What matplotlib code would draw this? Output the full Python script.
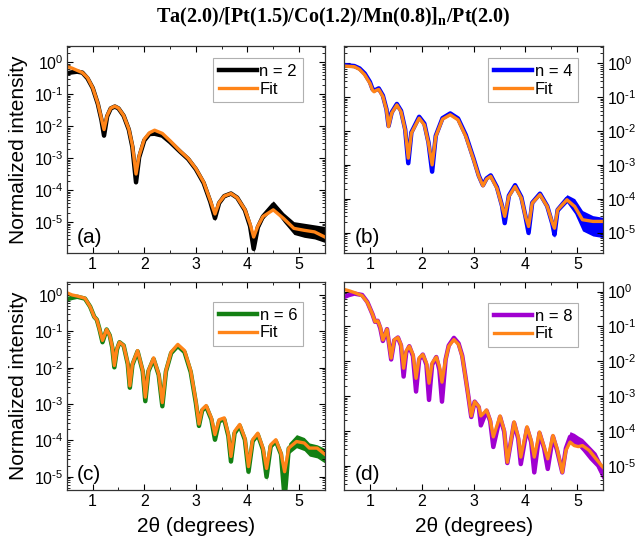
import numpy as np
import matplotlib
matplotlib.use("Agg")
import matplotlib.pyplot as plt
from matplotlib.ticker import LogLocator, MultipleLocator, NullFormatter, FuncFormatter

plt.rcParams['font.family'] = ['Liberation Sans', 'DejaVu Sans']
plt.rcParams['mathtext.fontset'] = 'custom'
plt.rcParams['mathtext.rm'] = 'Liberation Serif'
plt.rcParams['mathtext.bf'] = 'Liberation Serif:bold'

# values are log10(normalized intensity)
# spread = half width (in decades) of the noisy band of the measured curve

# (a) n = 2
a_x = [0.5, 0.6, 0.7, 0.8, 0.9, 1.0, 1.1, 1.17, 1.22, 1.28,
       1.35, 1.43, 1.5, 1.6, 1.7, 1.77, 1.84, 1.9, 2.0, 2.1,
       2.2, 2.35, 2.5, 2.7, 2.85, 3.0, 3.15, 3.28, 3.37, 3.45,
       3.55, 3.68, 3.8, 3.95, 4.05, 4.12, 4.2, 4.3, 4.5, 4.7,
       4.9, 5.1, 5.3, 5.5]
a_meas = [-0.34, -0.31, -0.29, -0.32, -0.50, -0.80, -1.30, -1.80, -2.29, -1.69,
          -1.44, -1.38, -1.44, -1.67, -2.10, -2.65, -3.75, -2.97, -2.44, -2.24,
          -2.23, -2.29, -2.49, -2.80, -3.02, -3.34, -3.77, -4.36, -4.87, -4.40,
          -4.18, -4.10, -4.23, -4.62, -5.12, -5.83, -5.16, -4.82, -4.45, -4.85,
          -5.18, -5.25, -5.30, -5.38]
a_fit = [-0.13, -0.18, -0.25, -0.32, -0.48, -0.79, -1.28, -1.76, -2.10, -1.66,
         -1.43, -1.37, -1.43, -1.66, -2.08, -2.60, -3.49, -2.92, -2.40, -2.20,
         -2.12, -2.22, -2.45, -2.78, -3.00, -3.32, -3.74, -4.32, -4.74, -4.38,
         -4.18, -4.10, -4.23, -4.60, -5.05, -5.46, -5.12, -4.82, -4.61, -4.88,
         -5.19, -5.25, -5.30, -5.46]
a_spread = [0.0] * 26 + [0.02, 0.05, 0.08, 0.05,
                         0.05, 0.05, 0.05, 0.05, 0.08, 0.12, 0.08, 0.08, 0.12, 0.15,
                         0.2, 0.22, 0.22, 0.25]

# (b) n = 4
b_x = [0.5, 0.7, 0.8, 0.9, 1.0, 1.05, 1.08, 1.12, 1.17, 1.25,
       1.32, 1.36, 1.42, 1.52, 1.6, 1.68, 1.74, 1.8, 1.95, 2.05,
       2.13, 2.2, 2.27, 2.4, 2.55, 2.7, 2.85, 3.0, 3.1, 3.18,
       3.25, 3.33, 3.45, 3.55, 3.6, 3.68, 3.8, 3.92, 4.0, 4.06,
       4.13, 4.28, 4.42, 4.52, 4.56, 4.62, 4.8, 4.95, 5.1, 5.3,
       5.5]
b_meas = [-0.05, -0.08, -0.15, -0.30, -0.55, -0.76, -0.80, -0.78, -0.74, -0.95,
          -1.36, -1.85, -1.45, -1.20, -1.40, -1.95, -2.95, -2.04, -1.58, -1.78,
          -2.34, -3.20, -2.14, -1.62, -1.48, -1.63, -2.12, -2.82, -3.32, -3.60,
          -3.40, -3.31, -3.66, -4.22, -4.72, -3.91, -3.60, -3.95, -4.52, -5.01,
          -4.12, -3.85, -4.22, -4.75, -5.06, -4.33, -4.00, -4.22, -4.65, -4.80,
          -4.85]
b_fit = [-0.08, -0.10, -0.18, -0.34, -0.59, -0.79, -0.84, -0.80, -0.77, -0.98,
         -1.38, -1.87, -1.47, -1.23, -1.43, -1.97, -2.80, -2.06, -1.62, -1.82,
         -2.36, -3.00, -2.16, -1.65, -1.52, -1.67, -2.16, -2.85, -3.34, -3.62,
         -3.42, -3.34, -3.69, -4.23, -4.52, -3.93, -3.64, -3.98, -4.52, -4.82,
         -4.13, -3.88, -4.23, -4.72, -4.87, -4.33, -4.03, -4.23, -4.62, -4.67,
         -4.67]
b_spread = [0.0] * 30 + [0.0, 0.0, 0.0, 0.03, 0.05, 0.03, 0.03, 0.03, 0.05, 0.08,
                         0.05, 0.05, 0.05, 0.08, 0.1, 0.08, 0.12, 0.22, 0.3, 0.3,
                         0.3]

# (c) n = 6
c_x = [0.5, 0.6, 0.7, 0.85, 0.95, 1.03, 1.08, 1.13, 1.19, 1.27,
       1.33, 1.38, 1.42, 1.47, 1.52, 1.6, 1.68, 1.72, 1.77, 1.87,
       1.97, 2.02, 2.08, 2.18, 2.28, 2.35, 2.42, 2.52, 2.65, 2.78,
       2.9, 3.0, 3.06, 3.12, 3.2, 3.3, 3.37, 3.45, 3.55, 3.63,
       3.68, 3.75, 3.85, 3.95, 4.02, 4.1, 4.2, 4.3, 4.37, 4.45,
       4.55, 4.65, 4.72, 4.8, 4.95, 5.1, 5.2, 5.35, 5.5]
c_meas = [-0.12, -0.08, -0.05, -0.10, -0.32, -0.60, -0.68, -0.93, -1.30, -0.95,
          -1.11, -1.45, -1.99, -1.50, -1.30, -1.39, -1.90, -2.55, -1.92, -1.55,
          -2.10, -2.92, -2.10, -1.76, -2.20, -3.06, -2.10, -1.60, -1.40, -1.57,
          -2.12, -2.97, -3.60, -3.18, -3.07, -3.42, -3.98, -3.47, -3.42, -3.88,
          -4.58, -3.80, -3.60, -3.98, -4.86, -4.02, -3.84, -4.25, -5.00, -4.16,
          -4.02, -4.38, -5.60, -4.22, -4.02, -4.10, -4.25, -4.30, -4.42]
c_fit = [0.06, 0.00, -0.03, -0.09, -0.32, -0.60, -0.68, -0.93, -1.25, -0.95,
         -1.11, -1.43, -1.94, -1.48, -1.30, -1.39, -1.88, -2.50, -1.90, -1.53,
         -2.08, -2.81, -2.08, -1.73, -2.18, -2.96, -2.08, -1.57, -1.36, -1.53,
         -2.08, -2.92, -3.55, -3.15, -3.04, -3.38, -3.84, -3.43, -3.38, -3.84,
         -4.44, -3.75, -3.56, -3.94, -4.72, -3.98, -3.80, -4.21, -4.77, -4.12,
         -3.98, -4.35, -4.86, -4.21, -4.03, -4.07, -4.21, -4.21, -4.38]
c_spread = [0.0] * 40 + [0.03, 0.03, 0.03, 0.05, 0.08, 0.05, 0.05, 0.05, 0.1, 0.05,
                         0.05, 0.08, 0.1, 0.15, 0.18, 0.18, 0.18, 0.18, 0.2]

# (d) n = 8
d_x = [0.5, 0.6, 0.7, 0.85, 0.95, 1.05, 1.1, 1.15, 1.2, 1.25,
       1.33, 1.41, 1.47, 1.54, 1.6, 1.65, 1.7, 1.76, 1.83, 1.89,
       1.95, 2.02, 2.09, 2.14, 2.2, 2.28, 2.34, 2.39, 2.46, 2.52,
       2.62, 2.71, 2.78, 2.84, 2.9, 2.955, 3.02, 3.1, 3.14, 3.25,
       3.32, 3.38, 3.51, 3.59, 3.65, 3.78, 3.86, 3.91, 4.03, 4.11,
       4.17, 4.27, 4.36, 4.43, 4.53, 4.61, 4.71, 4.78, 4.86, 4.94,
       5.02, 5.1, 5.23, 5.36, 5.47, 5.5]
d_meas = [-0.16, -0.10, -0.06, -0.10, -0.30, -0.65, -0.87, -0.84, -1.05, -1.42,
          -1.08, -1.95, -1.40, -1.32, -1.55, -2.44, -1.75, -1.57, -1.85, -2.87,
          -1.95, -1.81, -2.10, -3.11, -2.10, -1.88, -2.25, -3.16, -1.95, -1.55,
          -1.33, -1.49, -1.84, -2.42, -3.02, -3.60, -3.16, -3.32, -3.84, -3.42,
          -3.72, -4.46, -3.60, -4.02, -4.92, -3.77, -4.22, -4.95, -3.92, -4.32,
          -5.19, -4.06, -4.50, -5.09, -4.16, -4.56, -5.19, -4.50, -4.17, -4.22,
          -4.30, -4.40, -4.62, -4.82, -5.15, -5.20]
d_fit = [0.06, 0.02, -0.03, -0.12, -0.31, -0.65, -0.87, -0.84, -1.02, -1.39,
         -1.08, -1.91, -1.38, -1.32, -1.52, -2.20, -1.70, -1.57, -1.80, -2.49,
         -1.90, -1.81, -2.05, -2.63, -2.05, -1.88, -2.15, -2.60, -1.95, -1.57,
         -1.38, -1.52, -1.86, -2.43, -3.01, -3.57, -3.16, -3.30, -3.57, -3.40,
         -3.69, -4.17, -3.57, -3.98, -4.90, -3.74, -4.17, -4.75, -3.88, -4.27,
         -4.75, -4.03, -4.46, -4.80, -4.13, -4.51, -5.19, -4.56, -4.32, -4.42,
         -4.45, -4.42, -4.56, -4.80, -5.00, -5.05]
d_spread = [0.0] * 36 + [0.03, 0.03, 0.05, 0.03, 0.03, 0.05, 0.03, 0.03, 0.05, 0.03,
                         0.03, 0.05, 0.03, 0.03, 0.05, 0.03, 0.03, 0.05, 0.03, 0.03,
                         0.05, 0.1, 0.15, 0.15, 0.15, 0.18, 0.2, 0.2, 0.2, 0.2]

FIT_COLOR = '#ff8418'


def decade_label(v, pos):
    e = int(round(np.log10(v)))
    if e < 0:
        return r'$\mathdefault{10^{\text{-}%d}}$' % (-e)
    return r'$\mathdefault{10^{%d}}$' % e


def draw_panel(ax, x, meas, fit, spread, color, label, tag, ylim, leg_anchor, right):
    x = np.array(x)
    m = np.array(meas)
    s = np.array(spread)
    ax.fill_between(x, 10 ** (m - s), 10 ** (m + s), color=color, lw=0)
    ax.plot(x, 10 ** m, color=color, lw=3.2, label=label, solid_joinstyle='round')
    ax.plot(x, 10 ** np.array(fit), color=FIT_COLOR, lw=2.4, label='Fit',
            solid_joinstyle='round')

    ax.set_yscale('log')
    ax.set_xlim(0.5, 5.5)
    ax.set_ylim(*ylim)
    ax.xaxis.set_major_locator(MultipleLocator(1))
    ax.xaxis.set_minor_locator(MultipleLocator(0.5))
    ax.yaxis.set_major_locator(LogLocator(base=10, numticks=20))
    ax.yaxis.set_major_formatter(FuncFormatter(decade_label))
    ax.yaxis.set_minor_locator(LogLocator(base=10, subs=np.arange(2, 10), numticks=20))
    ax.yaxis.set_minor_formatter(NullFormatter())
    ax.tick_params(which='both', direction='in', top=True, right=True, left=True,
                   labelsize=11.5, pad=3)
    ax.tick_params(axis='y', pad=2.5)
    ax.tick_params(which='major', length=4.5, width=0.8)
    ax.tick_params(which='minor', length=2.5, width=0.6)
    if right:
        ax.tick_params(labelleft=False, labelright=True)
    for sp in ax.spines.values():
        sp.set_linewidth(0.9)
        sp.set_color('#333333')

    leg = ax.legend(loc='upper right', bbox_to_anchor=leg_anchor, borderaxespad=0,
                    fontsize=12, handlelength=2.3, handletextpad=0.15,
                    labelspacing=0.15, borderpad=0.35, fancybox=False,
                    framealpha=1, edgecolor='#b0b0b0')
    leg.get_frame().set_linewidth(0.8)
    ax.text(0.04, 0.03, tag, transform=ax.transAxes, fontsize=15,
            ha='left', va='bottom')


fig = plt.figure(figsize=(6.37, 5.44), dpi=100)
ax_a = fig.add_axes([0.105, 0.535, 0.405, 0.380])
ax_b = fig.add_axes([0.540, 0.535, 0.407, 0.380])
ax_c = fig.add_axes([0.105, 0.099, 0.405, 0.383])
ax_d = fig.add_axes([0.540, 0.099, 0.407, 0.383])

draw_panel(ax_a, a_x, a_meas, a_fit, a_spread, 'black', 'n = 2', '(a)',
           (1.1e-6, 3.2), (0.915, 0.942), False)
draw_panel(ax_b, b_x, b_meas, b_fit, b_spread, '#0000ff', 'n = 4', '(b)',
           (2.5e-6, 3.2), (0.903, 0.942), True)
draw_panel(ax_c, c_x, c_meas, c_fit, c_spread, '#138013', 'n = 6', '(c)',
           (4.3e-6, 2.3), (0.915, 0.903), False)
draw_panel(ax_d, d_x, d_meas, d_fit, d_spread, '#a000d0', 'n = 8', '(d)',
           (2.0e-6, 1.9), (0.903, 0.898), True)

for ax in (ax_a, ax_c):
    ax.set_ylabel('Normalized intensity', fontsize=15)
    ax.yaxis.set_label_coords(-0.15, 0.5)
for ax in (ax_c, ax_d):
    ax.set_xlabel('2\u03b8 (degrees)', fontsize=15)
    ax.xaxis.set_label_coords(0.5, -0.13)

fig.text(0.523, 0.968, r'Ta(2.0)/[Pt(1.5)/Co(1.2)/Mn(0.8)]$_\mathbf{n}$/Pt(2.0)',
         family='Liberation Serif', weight='bold', fontsize=14.5,
         ha='center', va='center')

fig.savefig('out.png', dpi=100)
